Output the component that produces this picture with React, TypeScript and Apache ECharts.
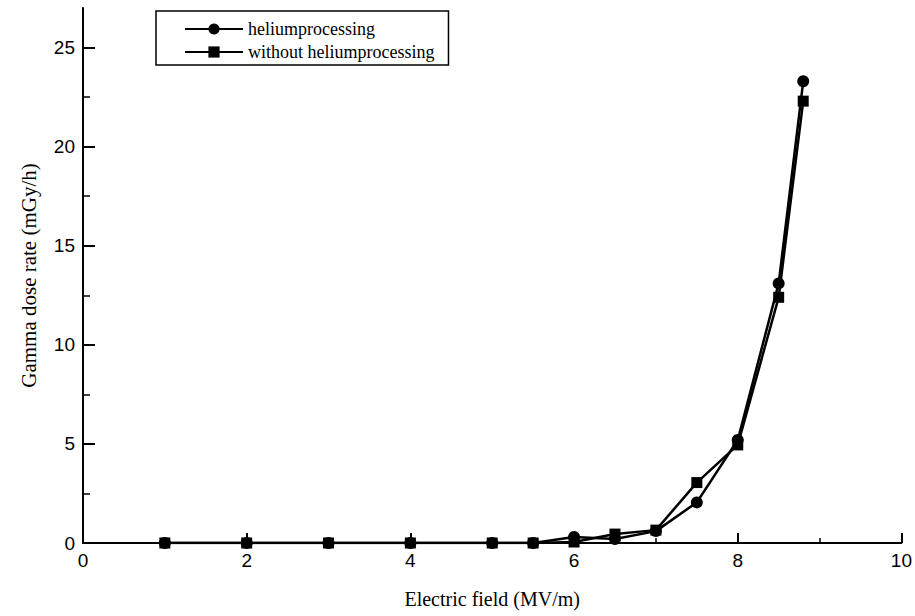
import React, { useEffect, useRef } from "react";
import * as echarts from "echarts";

const xField = [1, 2, 3, 4, 5, 5.5, 6, 6.5, 7, 7.5, 8, 8.5, 8.8];
const heliumValues = [0, 0, 0, 0, 0, 0, 0.3, 0.2, 0.6, 2.05, 5.2, 13.1, 23.3];
const withoutValues = [0, 0, 0, 0, 0, 0, 0.05, 0.45, 0.65, 3.05, 4.95, 12.4, 22.3];
const yMajorTicks = [0, 5, 10, 15, 20, 25];
const yMinorTicks = [2.5, 7.5, 12.5, 17.5, 22.5];
const seriesNames = ["heliumprocessing", "without heliumprocessing"];

const serif = "'Liberation Serif', 'Times New Roman', serif";
const sans = "'Liberation Sans', Arial, sans-serif";

export default function App() {
  const ref = useRef<HTMLDivElement>(null);
  useEffect(() => {
    if (!ref.current) return;
    const chart = echarts.init(ref.current, null, { renderer: "svg" });
    const pair = (vals: number[]) => xField.map((x, i) => [x, vals[i]]);
    chart.setOption({
      animation: false,
      backgroundColor: "#fff",
      grid: { left: 83, right: 13, top: 8, bottom: 73, containLabel: false },
      legend: {
        orient: "vertical",
        left: 156,
        top: 11,
        padding: [8, 14, 3, 28],
        itemGap: 3,
        itemWidth: 58,
        itemHeight: 14,
        borderColor: "#000",
        borderWidth: 1.5,
        data: seriesNames,
        textStyle: { fontFamily: serif, fontSize: 18, color: "#000", lineHeight: 20 },
      },
      xAxis: {
        type: "value",
        min: 0,
        max: 10,
        interval: 2,
        name: "Electric field (MV/m)",
        nameLocation: "middle",
        nameGap: 46,
        nameTextStyle: { fontFamily: serif, fontSize: 20, color: "#000" },
        axisLine: { show: true, onZero: false, lineStyle: { color: "#000", width: 2 } },
        axisTick: { show: true, inside: true, length: 10, lineStyle: { color: "#000", width: 2 } },
        minorTick: { show: true, splitNumber: 2, length: 5, lineStyle: { color: "#000", width: 1.5 } },
        axisLabel: { fontFamily: sans, fontSize: 19, color: "#000", margin: 8 },
        splitLine: { show: false },
      },
      yAxis: [
        {
          type: "value",
          min: 0,
          max: 27,
          interval: 5,
          name: "Gamma dose rate (mGy/h)",
          nameLocation: "middle",
          nameGap: 44,
          nameTextStyle: { fontFamily: serif, fontSize: 21, color: "#000" },
          axisLine: { show: true, onZero: false, lineStyle: { color: "#000", width: 2 } },
          axisTick: {
            show: true,
            inside: true,
            length: 12,
            customValues: yMajorTicks,
            lineStyle: { color: "#000", width: 2 },
          },
          axisLabel: { fontFamily: sans, fontSize: 19, color: "#000", margin: 8, customValues: yMajorTicks },
          splitLine: { show: false },
        },
        {
          type: "value",
          min: 0,
          max: 27,
          position: "left",
          axisLine: { show: false },
          axisTick: {
            show: true,
            inside: true,
            length: 7,
            customValues: yMinorTicks,
            lineStyle: { color: "#000", width: 1.5 },
          },
          axisLabel: { show: false, customValues: yMinorTicks },
          splitLine: { show: false },
        },
      ],
      series: [
        {
          name: seriesNames[0],
          type: "line",
          data: pair(heliumValues),
          symbol: "circle",
          symbolSize: 12,
          itemStyle: { color: "#000" },
          lineStyle: { color: "#000", width: 2.5 },
        },
        {
          name: seriesNames[1],
          type: "line",
          data: pair(withoutValues),
          symbol: "rect",
          symbolSize: 11,
          itemStyle: { color: "#000" },
          lineStyle: { color: "#000", width: 2.5 },
        },
      ],
    });
    return () => chart.dispose();
  }, []);
  return <div ref={ref} style={{ width: 915, height: 616, position: "absolute", left: 0, top: 0 }} />;
}
